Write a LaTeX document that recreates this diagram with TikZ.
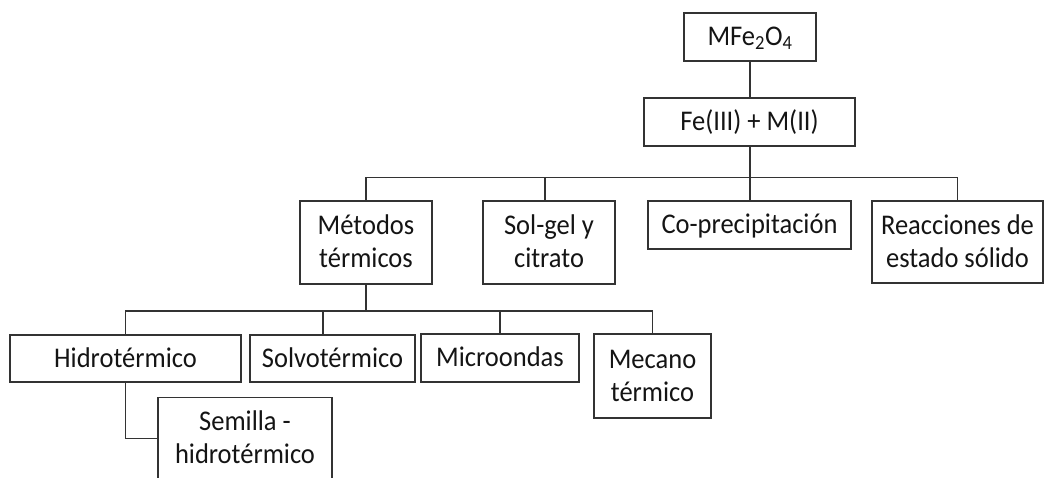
\documentclass[tikz,border=0pt]{standalone}
\usepackage{fontspec}
\setmainfont{Carlito}[FakeStretch=0.93]
% one text line with a fixed height and depth, so that every box places its text alike
\newcommand\txtline[1]{\raisebox{0pt}[19pt][2pt]{#1}}
\begin{document}
\begin{tikzpicture}[x=1pt,y=-1pt,
  box/.style={draw=black!80, line width=1.8pt, align=center, inner sep=0pt,
    font=\fontsize{28.5}{33}\selectfont, text=black!92},
  link/.style={draw=black!80, line width=1.8pt}]
\useasboundingbox (0,0) rectangle (1044,477);
\clip (0,0) rectangle (1044,477);

% top of the tree
\node[box, minimum width=132pt, minimum height=48pt] (mf) at (750,37) {\txtline{MFe\textsubscript{2}O\textsubscript{4}}};
\node[box, minimum width=211pt, minimum height=48pt] (fe) at (749.5,122) {\txtline{Fe(III) + M(II)}};

% synthesis routes
\node[box, minimum width=132pt, minimum height=83pt] (met) at (366,242.5) {\txtline{Métodos}\\\txtline{térmicos}};
\node[box, minimum width=132pt, minimum height=83pt] (sol) at (549,242.5) {\txtline{Sol-gel y}\\\txtline{citrato}};
\node[box, minimum width=203pt, minimum height=48pt] (cop) at (749.5,225) {\txtline{Co-precipitación}};
\node[box, minimum width=171pt, minimum height=82.5pt] (rea) at (957.5,242) {\txtline{Reacciones de}\\\txtline{estado sólido}};

% thermal methods
\node[box, minimum width=231pt, minimum height=47pt] (hid) at (125.5,358.5) {\txtline{Hidrotérmico}};
\node[box, minimum width=165pt, minimum height=47pt] (sov) at (332.5,358.5) {\txtline{Solvotérmico}};
\node[box, minimum width=158pt, minimum height=48pt] (mic) at (500,358) {\txtline{Microondas}};
\node[box, minimum width=117pt, minimum height=84pt] (mec) at (652.5,376) {\txtline{Mecano}\\\txtline{térmico}};
\node[box, minimum width=174pt, minimum height=82pt] (sem) at (245,438.5) {\txtline{Semilla -}\\\txtline{hidrotérmico}};

% bus levels
\coordinate (busA) at (0,177.5);
\coordinate (busB) at (0,311);

\draw[link] (mf.south) -- (mf.south |- fe.north);
\draw[link] (mf.south |- fe.south) -- (mf.south |- busA);
\draw[link] (met.north) -- (met.north |- busA) -- (rea.north |- busA) -- (rea.north);
\draw[link] (sol.north) ++(-4,0) -- ++(0,-23.5);
\draw[link] (mf.south |- cop.north) -- (mf.south |- busA);

\draw[link] (met.south) -- (met.south |- busB);
\draw[link] (hid.north) -- (hid.north |- busB) -- (mec.north |- busB) -- (mec.north);
\draw[link] (sov.north) ++(-9.2,0) -- ++(0,-24);
\draw[link] (mic.north) -- (mic.north |- busB);
\draw[link] (hid.south) -- (hid.south |- sem.west) -- (sem.west);
\end{tikzpicture}
\end{document}
